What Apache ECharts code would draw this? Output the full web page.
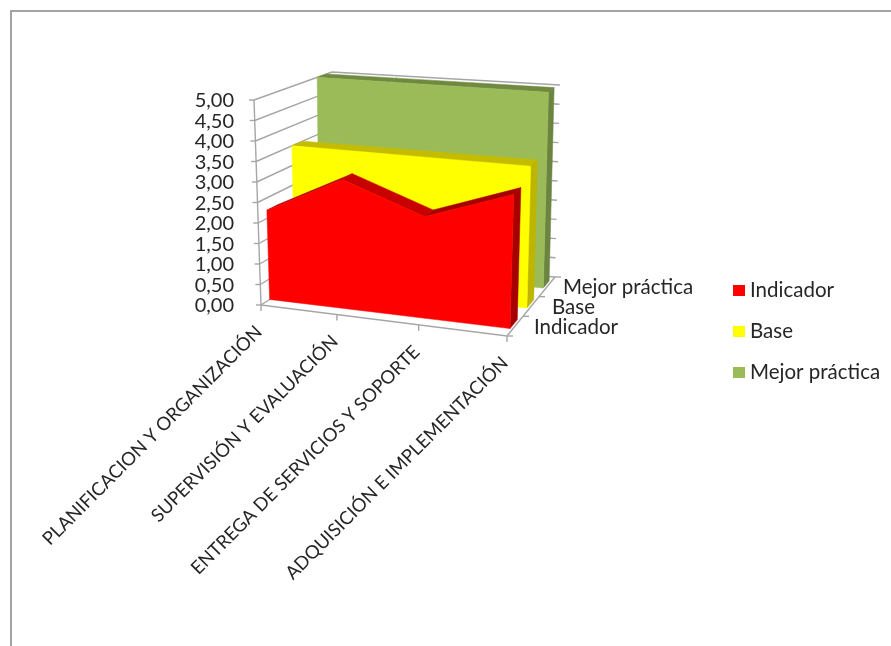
<!DOCTYPE html>
<html>
<head>
<meta charset="utf-8">
<style>html,body{margin:0;padding:0;background:#fff}#c{width:891px;height:646px}</style>
<script src="https://cdn.jsdelivr.net/npm/echarts@6/dist/echarts.min.js"></script>
</head>
<body>
<div id="c"></div>
<script>
// Process areas along the horizontal axis
const categories = ['PLANIFICACION Y ORGANIZACIÓN', 'SUPERVISIÓN Y EVALUACIÓN', 'ENTREGA DE SERVICIOS Y SOPORTE', 'ADQUISICIÓN E IMPLEMENTACIÓN'];
// Series, front to back
const seriesNames = ['Indicador', 'Base', 'Mejor práctica'];
const indicador = [2.2, 3.15, 2.45, 3.2];
const base = [3.5, 3.5, 3.5, 3.5];
const mejorPractica = [5, 5, 5, 5];

const FONT = 'Lato, "Noto Sans", sans-serif';
const TEXT = '#262626';
const GRID = '#a6a6a6';

// Corners of the 3D box on the page: [front/back][left/right][floor/top]
const BOX = {
  flb: [261, 305], flt: [254, 100], frb: [507, 336], frt: [513, 124],
  blb: [333, 259], blt: [332, 72], brb: [555, 277], brt: [560, 85]
};
const PERSPECTIVE = 1.12;
// The areas stop just short of the box's right side
const AREA_SPAN = 0.99;
const DEPTH_LABEL_GAP = [19, 21, 16];
const mix = (a, b, k) => [a[0] + (b[0] - a[0]) * k, a[1] + (b[1] - a[1]) * k];

// t: 0..1 along categories, v: 0..1 of the value range, d: 0..1 into depth
function project(t, v, d) {
  const f = t / (t + PERSPECTIVE * (1 - t));
  const fb = mix(BOX.flb, BOX.frb, f), ft = mix(BOX.flt, BOX.frt, f);
  const bb = mix(BOX.blb, BOX.brb, f), bt = mix(BOX.blt, BOX.brt, f);
  return mix(mix(fb, ft, v), mix(bb, bt, v), d);
}

// Flat plane coordinates from the cartesian grid into box fractions
function toUnit(params, api, i, value) {
  const p = api.coord([i, value]);
  const cs = params.coordSys;
  return [(p[0] - cs.x) / cs.width, (cs.y + cs.height - p[1]) / cs.height];
}

function layer(name, values, colors, d0, d1, z) {
  return {
    type: 'custom', name, coordinateSystem: 'cartesian2d', z, silent: true, clip: false,
    itemStyle: { color: colors.face },
    data: values.map((v, i) => [i, v]),
    renderItem(params, api) {
      if (params.dataIndex !== 0) return null;
      const u = values.map((v, i) => {
        const q = toUnit(params, api, i, v);
        return [q[0] * AREA_SPAN, q[1]];
      });
      const base0 = toUnit(params, api, 0, 0)[1];
      const children = [];
      const poly = (points, fill) => children.push({
        type: 'polygon', shape: { points }, style: { fill, stroke: fill, lineWidth: 0.5 }
      });
      // top strips, drawn per segment with a tone that depends on the slope
      for (let i = 0; i < u.length - 1; i++) {
        const rising = u[i + 1][1] > u[i][1];
        poly([project(u[i][0], u[i][1], d0), project(u[i + 1][0], u[i + 1][1], d0),
              project(u[i + 1][0], u[i + 1][1], d1), project(u[i][0], u[i][1], d1)],
             rising ? colors.side : colors.top);
      }
      // right end
      const last = u[u.length - 1];
      poly([project(last[0], base0, d0), project(last[0], last[1], d0),
            project(last[0], last[1], d1), project(last[0], base0, d1)], colors.side);
      // front face
      const face = u.map(p => project(p[0], p[1], d0));
      face.push(project(last[0], base0, d0), project(u[0][0], base0, d0));
      poly(face, colors.face);
      return { type: 'group', children };
    }
  };
}

// Walls, axis lines, ticks and the slanted labels
const frame = {
  type: 'custom', coordinateSystem: 'cartesian2d', z: 1, silent: true, clip: false,
  data: [[0, 0]],
  renderItem(params, api) {
    const line = (points) => ({
      type: 'polyline', shape: { points },
      style: { stroke: GRID, lineWidth: 1.4, fill: null }
    });
    const children = [];
    // gridlines running over the left and back walls
    for (let k = 0; k <= 10; k++) {
      const v = toUnit(params, api, 0, k * 0.5)[1];
      children.push(line([project(0, v, 0), project(0, v, 1), project(1, v, 1)]));
      const a = project(0, v, 0);
      children.push(line([[a[0] - 5, a[1]], a]));
    }
    children.push(line([project(0, 1, 0), project(0, 0, 0)]));
    children.push(line([project(0, 0, 0), project(1, 0, 0), project(1, 0, 1)]));
    categories.forEach((name, i) => {
      const t = toUnit(params, api, i, 0)[0];
      const p = project(t, 0, 0);
      children.push(line([p, [p[0], p[1] + 6]]));
      children.push({
        type: 'text', x: p[0] - 2, y: p[1] + 24, rotation: Math.PI / 4,
        style: { text: name, font: '18.5px ' + FONT, fill: TEXT, textAlign: 'right', textVerticalAlign: 'middle' }
      });
    });
    for (let k = 0; k <= seriesNames.length; k++) {
      const p = project(1, 0, k / seriesNames.length);
      children.push(line([p, [p[0] + 6, p[1]]]));
    }
    seriesNames.forEach((name, i) => {
      const p = project(1, 0, (i + 0.5) / seriesNames.length);
      children.push({
        type: 'text', x: p[0] + DEPTH_LABEL_GAP[i], y: p[1] + 1,
        style: { text: name, font: '20.5px ' + FONT, fill: TEXT, textAlign: 'left', textVerticalAlign: 'middle' }
      });
    });
    return { type: 'group', children };
  }
};

const chart = echarts.init(document.getElementById('c'), null, { renderer: 'canvas' });
chart.setOption({
  animation: false,
  backgroundColor: '#fff',
  textStyle: { fontFamily: FONT },
  grid: { left: 240, top: 101, width: 260, height: 205 },
  xAxis: {
    type: 'category', data: categories, boundaryGap: false,
    axisLine: { show: false }, axisTick: { show: false }, axisLabel: { show: false }, splitLine: { show: false }
  },
  yAxis: {
    type: 'value', min: 0, max: 5, interval: 0.5,
    axisLine: { show: false }, axisTick: { show: false }, splitLine: { show: false },
    axisLabel: { margin: 6, fontSize: 20, color: TEXT, fontFamily: FONT, formatter: v => v.toFixed(2).replace('.', ',') }
  },
  legend: {
    orient: 'vertical', left: 733, top: 280, padding: 0, itemWidth: 12, itemHeight: 11, itemGap: 20,
    icon: 'rect', data: seriesNames,
    textStyle: { fontSize: 20.5, lineHeight: 20, color: TEXT, fontFamily: FONT },
    itemStyle: { borderWidth: 0 }
  },
  graphic: [{
    type: 'polyline', silent: true,
    shape: { points: [[11, 646], [11, 11], [891, 11]] },
    style: { stroke: '#a3a3a3', lineWidth: 2, fill: null }
  }],
  series: [
    frame,
    layer('Mejor práctica', mejorPractica, { face: '#9bbb59', top: '#6f8a3f', side: '#6b8540' }, 0.81, 0.93, 2),
    layer('Base', base, { face: '#ffff00', top: '#c4bc00', side: '#bdb500' }, 0.47, 0.61, 3),
    layer('Indicador', indicador, { face: '#ff0000', top: '#c80000', side: '#a60000' }, 0.12, 0.27, 4)
  ]
});
</script>
</body>
</html>
